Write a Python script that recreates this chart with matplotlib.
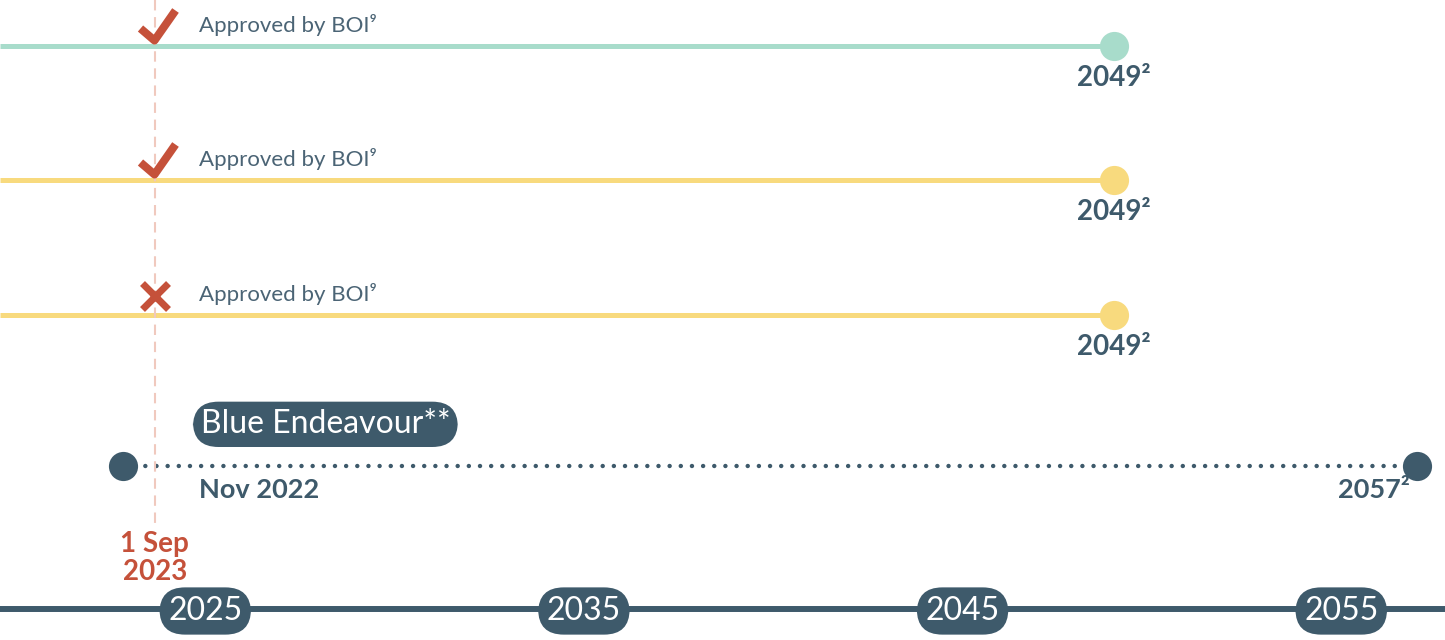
import numpy as np
import matplotlib.pyplot as plt
from matplotlib.path import Path
from matplotlib.markers import MarkerStyle

plt.rcParams['font.family'] = ['Lato', 'DejaVu Sans']

# data
row_end_years = [2049, 2049, 2049]
row_end_labels = ['2049²', '2049²', '2049²']
row_boi_approved = [True, True, False]
row_boi_text = ['Approved by BOI⁹', 'Approved by BOI⁹', 'Approved by BOI⁹']

endeavour_name = 'Blue Endeavour**'
endeavour_start = 2022 + 10 / 12   # Nov 2022
endeavour_end = 2057
endeavour_labels = ['Nov 2022', '2057²']

cutoff_date = 2023 + 8 / 12        # 1 Sep 2023
cutoff_label = '1 Sep\n2023'

axis_years = [2025, 2035, 2045, 2055]

# layout / style
ROW_Y = [46, 180, 315]
ROW_COLORS = ['#a8dccb', '#f8da7e', '#f8da7e']
ENDEAVOUR_Y = 466
AXIS_Y = 609
XLIM = (2019.58, 2057.74)
DARK = '#3e5a6b'
RED = '#c5513a'
GREY = '#4b6475'
PINK = '#f0c9be'

fig = plt.figure(figsize=(14.45, 6.4), dpi=100)
ax = fig.add_axes([0, 0, 1, 1])
ax.set_xlim(*XLIM)
ax.set_ylim(640, 0)
ax.axis('off')

check = MarkerStyle(Path([(-15, -3), (-1, -15), (20, 15)],
                         [Path.MOVETO, Path.LINETO, Path.LINETO]),
                    joinstyle='miter', capstyle='butt')

# project rows
for y, end, lab, ok, txt, c in zip(ROW_Y, row_end_years, row_end_labels,
                                   row_boi_approved, row_boi_text, ROW_COLORS):
    ax.plot([XLIM[0], end], [y, y], color=c, lw=3.6, solid_capstyle='butt', zorder=2)
    ax.plot(end, y, 'o', ms=21, color=c, mec='none', zorder=3)
    ax.annotate(lab, (end, y), xytext=(0, -23), textcoords='offset points',
                ha='center', va='center', fontsize=20, fontweight='bold', color=DARK)
    if ok:
        ax.plot(cutoff_date, y - 21, marker=check, ms=28.8, mew=5.8,
                mec=RED, mfc='none', zorder=5)
    else:
        ax.plot(cutoff_date, y - 19, marker='x', ms=19, mew=5,
                mec=RED, zorder=5)
    ax.annotate(txt, (cutoff_date, y), xytext=(32, 15), textcoords='offset points',
                ha='left', va='center', fontsize=16, color=GREY)

# cutoff marker line
ax.plot([cutoff_date, cutoff_date], [0, 527], color=PINK, lw=1.5,
        ls=(0, (5, 3.2)), zorder=2.5)
ax.text(cutoff_date, 558, cutoff_label, ha='center', va='center', fontsize=20,
        fontweight='bold', color=RED, linespacing=1.05)

# Blue Endeavour
ax.plot([endeavour_start, endeavour_end], [ENDEAVOUR_Y, ENDEAVOUR_Y], color=DARK,
        lw=3.2, ls=(0, (0.01, 2.5)), dash_capstyle='round', zorder=2)
ax.plot([endeavour_start, endeavour_end], [ENDEAVOUR_Y, ENDEAVOUR_Y], 'o', ms=21,
        color=DARK, mec='none', ls='none', zorder=3)
ax.annotate(endeavour_name, (cutoff_date, ENDEAVOUR_Y), xytext=(33, 30),
            textcoords='offset points', ha='left', va='center', fontsize=23,
            color='white',
            bbox=dict(boxstyle='round,pad=0.24,rounding_size=0.8', fc=DARK, ec='none'))
ax.annotate(endeavour_labels[0], (cutoff_date, ENDEAVOUR_Y), xytext=(32, -17),
            textcoords='offset points', ha='left', va='center', fontsize=19.5,
            fontweight='bold', color=DARK)
ax.annotate(endeavour_labels[1], (endeavour_end, ENDEAVOUR_Y), xytext=(-5, -17),
            textcoords='offset points', ha='right', va='center', fontsize=19.5,
            fontweight='bold', color=DARK)

# year axis
ax.axhline(AXIS_Y, color=DARK, lw=4.3, zorder=2)
for yr in axis_years:
    ax.text(yr, AXIS_Y + 2, str(yr), ha='center', va='center', fontsize=23,
            color='white', zorder=4,
            bbox=dict(boxstyle='round,pad=0.27,rounding_size=0.8', fc=DARK, ec='none'))

fig.savefig('out.png', dpi=100)
